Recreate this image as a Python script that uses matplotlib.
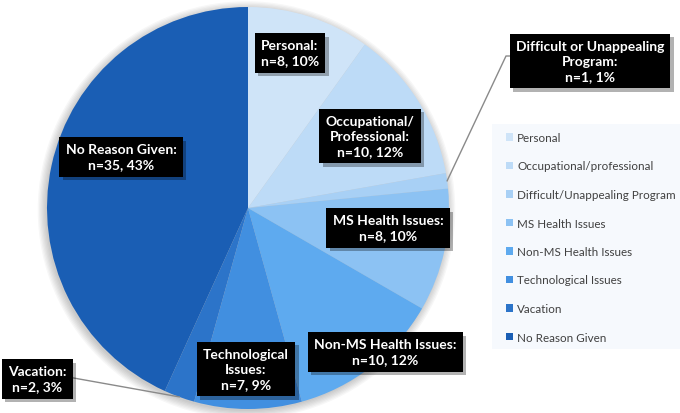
import matplotlib
matplotlib.use("Agg")
import matplotlib.pyplot as plt
import matplotlib.patheffects as pe
from matplotlib.patches import Circle, Rectangle
import numpy as np

# data
categories = ["Personal", "Occupational/professional", "Difficult/Unappealing Program",
              "MS Health Issues", "Non-MS Health Issues", "Technological Issues",
              "Vacation", "No Reason Given"]
counts = [8, 10, 1, 8, 10, 7, 2, 35]
percents = [10, 12, 1, 10, 12, 9, 3, 43]
label_names = ["Personal:", "Occupational/\nProfessional:", "Difficult or Unappealing\nProgram:",
               "MS Health Issues:", "Non-MS Health Issues:", "Technological\nIssues:",
               "Vacation:", "No Reason Given:"]
colors = ["#cfe4f8", "#bddbf7", "#a8d0f5", "#8cc2f3", "#5eaaef",
          "#418fe0", "#2c74c9", "#1a5eb4"]

# label box centres in image pixels (x, y from top)
label_pos = [(290, 54), (370, 137), (590, 62), (388, 229),
             (385, 353), (246, 370), (37, 380), (121, 158)]
# which labels get a leader line, and where it leaves the box
leaders = {2: (516, 57), 6: (68, 378)}

W, H = 680, 414
plt.rcParams["font.family"] = ["Lato", "DejaVu Sans"]

fig = plt.figure(figsize=(6.8, 4.14), dpi=100)
ax = fig.add_axes([0, 0, 1, 1])

cx, cy, r = 248, 205, 201

# soft shadow behind the pie
for k in range(7):
    ax.add_patch(Circle((cx - 1.5, cy - 2), r + k * 1.3, color="#000000",
                        alpha=0.03, lw=0, zorder=0))

wedges, _ = ax.pie(counts, colors=colors, startangle=90, counterclock=False,
                   center=(cx, cy), radius=r, frame=True,
                   wedgeprops=dict(linewidth=0.3, edgecolor="none"))
for w in wedges:
    w.set_zorder(1)

ax.set_xlim(0, W)
ax.set_ylim(0, H)
ax.set_aspect("equal")
ax.axis("off")

# leader lines from wedge edge to label box
for i, (bx, by) in leaders.items():
    w = wedges[i]
    mid = np.deg2rad((w.theta1 + w.theta2) / 2)
    ex, ey = cx + r * np.cos(mid), cy + r * np.sin(mid)
    if i == 2:
        xs, ys = [ex, bx - 10, bx], [ey, H - by, H - by]
    else:
        xs, ys = [ex, bx], [ey, H - by]
    ax.plot(xs, ys, color="#8a8a8a", lw=1, zorder=2)

# data labels
for name, n, p, (x, y) in zip(label_names, counts, percents, label_pos):
    txt = f"{name}\nn={n}, {p}%"
    t = ax.text(x, H - y, txt, ha="center", va="center", fontsize=10,
                fontweight="bold", color="white", linespacing=1.3, zorder=4,
                bbox=dict(boxstyle="square,pad=0.45", facecolor="#000000",
                          edgecolor="none"))
    t.get_bbox_patch().set_path_effects([
        pe.SimplePatchShadow(offset=(2.5, -2.5), shadow_rgbFace="#000000", alpha=0.3),
        pe.Normal()])

# legend panel
ax.add_patch(Rectangle((492, H - 350), W - 492, 225, facecolor="#f6f9fd",
                       edgecolor="none", zorder=0))
leg = ax.legend(wedges, categories, loc="upper left",
                bbox_to_anchor=(506 / W, 1 - 133 / H),
                bbox_transform=fig.transFigure, frameon=False, fontsize=8.4,
                labelspacing=1.5, handlelength=0.62, handleheight=0.62,
                handletextpad=0.35, borderpad=0, borderaxespad=0,
                labelcolor="#404040")

fig.savefig("out.png", dpi=100)
